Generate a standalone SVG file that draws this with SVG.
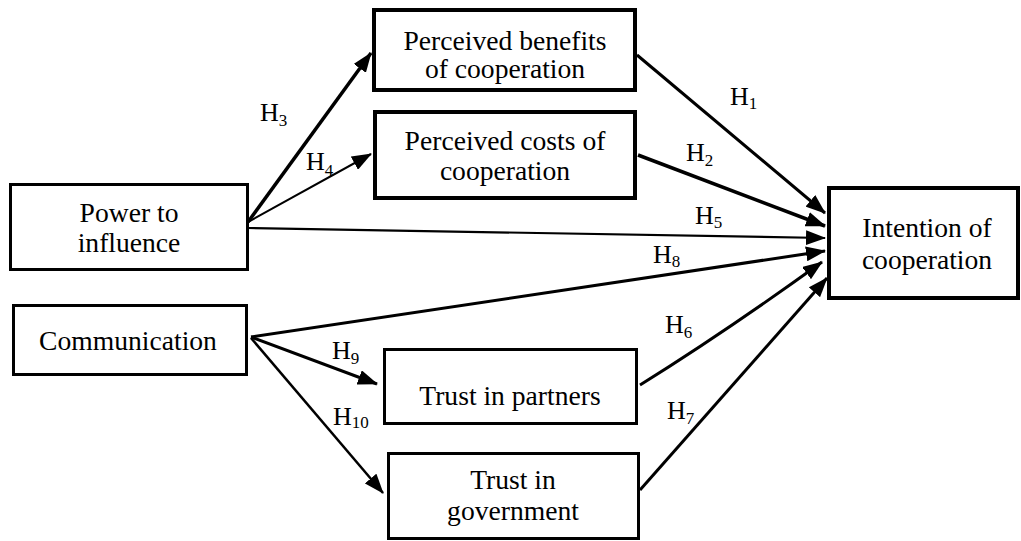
<svg xmlns="http://www.w3.org/2000/svg" width="1021" height="541" viewBox="0 0 1021 541" font-family="'Liberation Serif','Times New Roman',serif">
<style>
.box{fill:#fff;stroke:#000;stroke-width:3}
.thick{stroke-width:4}
.t{font-family:"Liberation Serif","Times New Roman",serif;font-size:27.6px;fill:#000;text-anchor:middle}
.h{font-family:"Liberation Serif","Times New Roman",serif;font-size:26px;fill:#000}
.s{font-size:17px}
.c{fill:none;stroke:#000;marker-end:url(#ah)}
</style>
<defs>
<marker id="ah" markerUnits="userSpaceOnUse" markerWidth="21" markerHeight="15" refX="19" refY="7.5" orient="auto">
<path d="M0,0 L20,7.5 L0,15 z" fill="#000"/>
</marker>
</defs>
<rect width="1021" height="541" fill="#fff"/>
<g id="connectors">
<line class="c" x1="248" y1="222" x2="371" y2="53" style="stroke-width:3.5"/>
<line class="c" x1="248" y1="222" x2="371" y2="154" style="stroke-width:2"/>
<line class="c" x1="248" y1="228" x2="825" y2="238" style="stroke-width:2.2"/>
<line class="c" x1="637" y1="55" x2="825" y2="213" style="stroke-width:3"/>
<line class="c" x1="638" y1="155" x2="825" y2="226" style="stroke-width:3.5"/>
<line class="c" x1="251" y1="337" x2="825" y2="251" style="stroke-width:3"/>
<line class="c" x1="251" y1="337" x2="377" y2="384" style="stroke-width:3"/>
<line class="c" x1="251" y1="338" x2="383" y2="493" style="stroke-width:2.5"/>
<path class="c" d="M640,385 Q725,332 822,262" style="stroke-width:3"/>
<line class="c" x1="640" y1="490" x2="827" y2="278" style="stroke-width:3"/>
</g>
<g id="labels">
<text class="h" x="260" y="121">H<tspan class="s" dy="5">3</tspan></text>
<text class="h" x="306" y="170">H<tspan class="s" dy="6">4</tspan></text>
<text class="h" x="730" y="105">H<tspan class="s" dy="4">1</tspan></text>
<text class="h" x="686" y="161">H<tspan class="s" dy="5">2</tspan></text>
<text class="h" x="695" y="224">H<tspan class="s" dy="4">5</tspan></text>
<text class="h" x="653" y="263">H<tspan class="s" dy="4">8</tspan></text>
<text class="h" x="665" y="333">H<tspan class="s" dy="5">6</tspan></text>
<text class="h" x="667" y="419">H<tspan class="s" dy="5">7</tspan></text>
<text class="h" x="332" y="359">H<tspan class="s" dy="5">9</tspan></text>
<text class="h" x="333" y="425">H<tspan class="s" dy="3">10</tspan></text>
</g>
<g id="benefits">
<rect class="box thick" x="374" y="10" width="261" height="80"/>
<text class="t" x="505" y="50">Perceived benefits</text>
<text class="t" x="505" y="78">of cooperation</text>
</g>
<g id="costs">
<rect class="box thick" x="375" y="112" width="260" height="86"/>
<text class="t" x="505" y="150">Perceived costs of</text>
<text class="t" x="505" y="180">cooperation</text>
</g>
<g id="power">
<rect class="box" x="10.5" y="184.5" width="237" height="85"/>
<text class="t" x="129" y="222">Power to</text>
<text class="t" x="129" y="252">influence</text>
</g>
<g id="communication">
<rect class="box" x="13.5" y="305.5" width="233" height="69"/>
<text class="t" x="128" y="350">Communication</text>
</g>
<g id="partners">
<rect class="box" x="384.5" y="349.5" width="252" height="74"/>
<text class="t" x="510" y="405">Trust in partners</text>
</g>
<g id="government">
<rect class="box" x="388.5" y="453.5" width="250" height="85"/>
<text class="t" x="513" y="489">Trust in</text>
<text class="t" x="513" y="520">government</text>
</g>
<g id="intention">
<rect class="box thick" x="829" y="188" width="189" height="110"/>
<text class="t" x="927" y="237">Intention of</text>
<text class="t" x="927" y="269">cooperation</text>
</g>
</svg>
